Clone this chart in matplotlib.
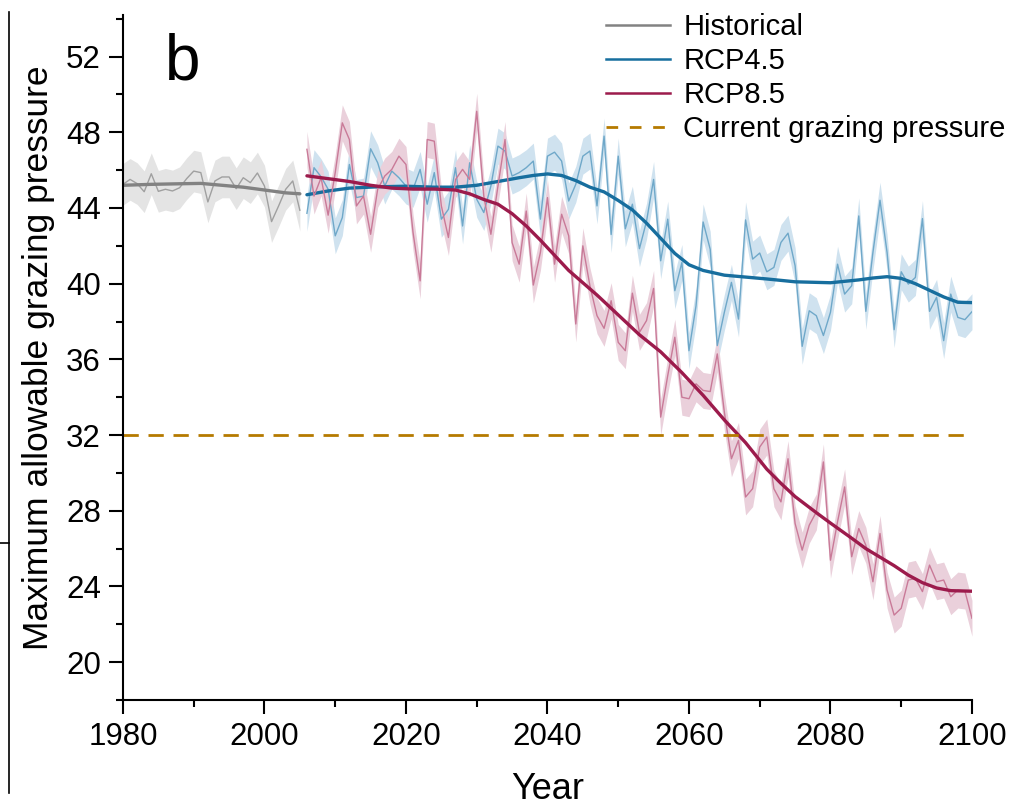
import numpy as np
import matplotlib
matplotlib.use("Agg")
import matplotlib.pyplot as plt
from matplotlib.lines import Line2D

plt.rcParams['font.family'] = ['Liberation Sans', 'DejaVu Sans']

# annual values
hist_vals = [45.25, 45.51, 45.29, 44.86, 45.81, 44.88, 44.99, 44.90, 45.07, 45.55,
             45.95, 45.87, 44.32, 45.43, 45.64, 45.64, 45.02, 45.60, 45.34, 45.85,
             45.16, 43.28, 44.11, 44.99, 45.43, 43.88]
rcp45_vals = [43.72, 46.13, 45.65, 44.99, 42.53, 43.49, 46.30, 44.55, 44.63, 47.13,
              46.39, 45.16, 45.95, 45.60, 45.16, 44.99, 46.04, 44.20, 45.87, 43.41,
              43.93, 46.13, 43.05, 46.39, 44.46, 43.76, 45.16, 47.27, 47.01, 45.69,
              45.87, 46.13, 46.48, 43.41, 46.74, 46.95, 46.48, 44.37, 45.25, 46.74,
              47.01, 44.11, 47.80, 42.60, 46.74, 42.90, 44.20, 41.85, 43.30, 45.51,
              41.21, 43.41, 39.63, 41.12, 36.46, 38.84, 43.26, 41.82, 36.73, 38.49,
              40.07, 38.13, 43.37, 41.30, 41.62, 40.63, 40.86, 42.18, 42.67, 40.95,
              36.69, 38.57, 38.31, 37.26, 38.49, 41.03, 39.45, 39.89, 43.58, 38.54,
              41.65, 44.41, 41.65, 37.57, 40.63, 39.98, 40.33, 43.44, 38.54, 39.28,
              36.99, 39.45, 38.22, 38.10, 38.52]
rcp85_vals = [47.10, 44.63, 45.60, 43.62, 45.87, 48.50, 47.62, 44.11, 44.63, 42.61,
              44.99, 45.69, 46.04, 46.74, 46.30, 42.70, 40.15, 47.62, 47.53, 44.11,
              42.44, 45.50, 46.04, 45.51, 49.11, 44.63, 42.61, 45.16, 47.62, 42.17,
              41.03, 43.84, 39.93, 41.65, 44.55, 41.03, 43.67, 42.53, 37.87, 42.00,
              39.89, 38.31, 37.64, 39.10, 36.90, 36.46, 39.50, 37.43, 38.05, 39.75,
              32.95, 35.15, 37.17, 34.00, 33.92, 34.71, 34.36, 34.30, 36.29, 33.21,
              30.75, 31.72, 28.73, 29.17, 31.37, 31.90, 29.17, 28.47, 30.75, 27.33,
              25.92, 27.24, 27.94, 30.58, 25.39, 27.42, 29.26, 25.57, 27.06, 26.18,
              24.25, 26.80, 23.81, 22.49, 22.85, 24.34, 24.43, 23.73, 25.13, 24.25,
              24.34, 23.46, 23.81, 23.76, 22.32]
hist_years = np.arange(1980, 1980 + len(hist_vals))
rcp_years = np.arange(2006, 2006 + len(rcp45_vals))

# spread of the shaded band around each series
hist_spread = 1.1
rcp45_spread = 0.95
rcp85_spread = 0.95

# smoothed trend lines
hist_trend_years = [1980, 1984, 1988, 1991, 1994, 1997, 2000, 2003, 2005]
hist_trend = [45.2, 45.25, 45.28, 45.3, 45.2, 45.1, 44.95, 44.8, 44.75]
rcp45_trend_years = [2006, 2009, 2012, 2016, 2020, 2024, 2027, 2030, 2033, 2036, 2038,
                     2040, 2042, 2044, 2046, 2048, 2050, 2052, 2054, 2056, 2058, 2060,
                     2062, 2065, 2068, 2071, 2075, 2080, 2084, 2086, 2088, 2090, 2092,
                     2094, 2096, 2098, 2100]
rcp45_trend = [44.7, 44.9, 45.05, 45.12, 45.15, 45.1, 45.1, 45.2, 45.4, 45.6, 45.72,
               45.8, 45.72, 45.45, 45.1, 44.85, 44.4, 43.9, 43.2, 42.4, 41.6, 41.0,
               40.7, 40.45, 40.35, 40.25, 40.1, 40.05, 40.2, 40.3, 40.37, 40.28, 40.0,
               39.65, 39.3, 39.02, 39.0]
rcp85_trend_years = [2006, 2009, 2012, 2015, 2018, 2021, 2024, 2027, 2029, 2031, 2033,
                     2035, 2037, 2039, 2041, 2043, 2045, 2047, 2049, 2051, 2053, 2056,
                     2059, 2062, 2065, 2068, 2071, 2073, 2075, 2078, 2080, 2083, 2085,
                     2087, 2089, 2091, 2093, 2095, 2097, 2100]
rcp85_trend = [45.7, 45.55, 45.4, 45.2, 45.05, 45.0, 45.0, 44.95, 44.75, 44.45, 44.2,
               43.7, 43.05, 42.3, 41.5, 40.7, 40.05, 39.4, 38.7, 38.0, 37.3, 36.4,
               35.3, 34.1, 32.8, 31.6, 30.2, 29.45, 28.75, 27.9, 27.35, 26.55, 26.0,
               25.55, 25.1, 24.6, 24.2, 23.92, 23.78, 23.75]
current_pressure = 32

fig = plt.figure(figsize=(10.13, 8.09), dpi=100)
ax = fig.add_axes([0.1214, 0.1347, 0.8381, 0.8468])

series = [
    (hist_years, hist_vals, hist_spread, hist_trend_years, hist_trend,
     '#e4e4e4', '#a0a0a0', '#828282', 'Historical'),
    (rcp_years, rcp45_vals, rcp45_spread, rcp45_trend_years, rcp45_trend,
     '#cfe2ef', '#6fa8c9', '#176e9e', 'RCP4.5'),
    (rcp_years, rcp85_vals, rcp85_spread, rcp85_trend_years, rcp85_trend,
     '#ead0db', '#c97a98', '#9c1b4c', 'RCP8.5'),
]
handles = []
for yrs, vals, sp, tyrs, tr, band_c, thin_c, thick_c, name in series:
    vals = np.array(vals)
    ax.fill_between(yrs, vals - sp, vals + sp, color=band_c, lw=0)
    ax.plot(yrs, vals, color=thin_c, lw=1.0)
    ax.plot(tyrs, tr, color=thick_c, lw=2.4, solid_capstyle='round')
    handles.append(Line2D([], [], color=thick_c, lw=1.8, label=name))

ax.axhline(current_pressure, color='#b57a00', lw=2, ls=(0, (5.5, 3.5)))
handles.append(Line2D([], [], color='#b57a00', lw=2, ls=(0, (4.2, 4.2)),
                      label='Current grazing pressure'))

ax.set_xlim(1980, 2100)
ax.set_ylim(18.1, 54.2)
ax.set_xticks(np.arange(1980, 2101, 20))
ax.set_xticks(np.arange(1990, 2100, 20), minor=True)
ax.set_yticks(np.arange(20, 53, 4))
ax.set_yticks(np.arange(18, 55, 2), minor=True)
for s in ['top', 'right']:
    ax.spines[s].set_visible(False)
for s in ['left', 'bottom']:
    ax.spines[s].set_linewidth(1.5)
ax.tick_params(which='major', length=10, width=1.5, labelsize=22.5, pad=6)
ax.tick_params(which='minor', length=5, width=1.5)
ax.set_xlabel('Year', fontsize=26, labelpad=14)
ax.set_ylabel('Maximum allowable grazing pressure', fontsize=25.5, labelpad=8)

ax.text(0.049, 0.975, 'b', transform=ax.transAxes, fontsize=46, va='top')

fig.legend(handles=handles, loc='upper right', bbox_to_anchor=(1.01, 1.005),
           frameon=False, fontsize=21, handlelength=2.2, handletextpad=0.45,
           labelspacing=0.2, borderaxespad=0.2)

# edge of the neighbouring panel
fig.add_artist(Line2D([0.009, 0.009], [0.02, 0.985], color='black', lw=1.2,
                      transform=fig.transFigure))
fig.add_artist(Line2D([0.0, 0.009], [0.329, 0.329], color='black', lw=1.2,
                      transform=fig.transFigure))

fig.savefig('out.png', dpi=100)
